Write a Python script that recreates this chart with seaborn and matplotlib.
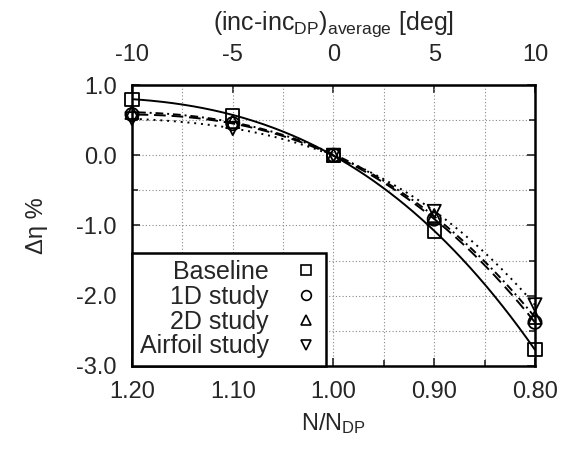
import numpy as np
import pandas as pd
import matplotlib
matplotlib.use('Agg')
import matplotlib.pyplot as plt
from matplotlib.lines import Line2D
from matplotlib.ticker import MultipleLocator
import seaborn as sns

## data
speed = [1.20, 1.10, 1.00, 0.90, 0.80]
baseline = [0.80, 0.57, 0.00, -1.08, -2.77]
study_1d = [0.58, 0.45, 0.00, -0.91, -2.38]
study_2d = [0.61, 0.48, 0.00, -0.86, -2.31]
airfoil = [0.52, 0.38, 0.00, -0.80, -2.13]

names = ['Baseline', '1D study', '2D study', 'Airfoil study']
markers = ['s', 'o', '^', 'v']
styles = ['-', (0, (6, 3)), (0, (4, 2, 1, 2)), (0, (1, 2.5))]

sns.set_style('ticks')
plt.rcParams['font.family'] = ['Liberation Sans', 'DejaVu Sans']
plt.rcParams['mathtext.fontset'] = 'custom'
plt.rcParams['mathtext.rm'] = 'Liberation Sans'
plt.rcParams['mathtext.it'] = 'Liberation Sans'
plt.rcParams['axes.unicode_minus'] = False

fs = 17

fig = plt.figure(figsize=(5.74, 4.5), dpi=100)
ax = fig.add_axes([0.230, 0.187, 0.702, 0.624])

# smooth fitted curve through each series, points on top
x_fine = np.linspace(0.80, 1.20, 200)
handles = []
for name, vals, mk, ls in zip(names, [baseline, study_1d, study_2d, airfoil], markers, styles):
    coef = np.polyfit(speed, vals, 3)
    fit = pd.DataFrame({'N': x_fine, 'eta': np.polyval(coef, x_fine)})
    sns.lineplot(data=fit, x='N', y='eta', ax=ax, color='black', lw=1.4, linestyle=ls, legend=False)
    pts = pd.DataFrame({'N': speed, 'eta': vals})
    sns.scatterplot(data=pts, x='N', y='eta', ax=ax, marker=mk, s=90, facecolor='none',
                    edgecolor='black', linewidth=1.3, zorder=3, legend=False, clip_on=False)
    handles.append(Line2D([], [], ls='none', marker=mk, markersize=7, markerfacecolor='none',
                          markeredgecolor='black', markeredgewidth=1.2, label=name))

ax.set_xlim(1.20, 0.80)
ax.set_ylim(-3.0, 1.0)
ax.xaxis.set_major_locator(MultipleLocator(0.1))
ax.xaxis.set_minor_locator(MultipleLocator(0.05))
ax.yaxis.set_major_locator(MultipleLocator(1.0))
ax.yaxis.set_minor_locator(MultipleLocator(0.5))
ax.xaxis.set_major_formatter(lambda v, p: f'{v:.2f}')
ax.yaxis.set_major_formatter(lambda v, p: f'{v:.1f}')
ax.grid(which='both', color='#888888', linestyle=(0, (1, 2)), linewidth=0.8)
ax.tick_params(which='both', direction='in', top=False, right=True, labelsize=fs, width=1.2)
ax.tick_params(which='major', length=6, pad=11)
ax.tick_params(which='minor', length=4)
for sp in ax.spines.values():
    sp.set_linewidth(1.8)
    sp.set_color('black')

ax.set_xlabel('N/N$_{\\mathrm{DP}}$', fontsize=fs, labelpad=6)
ax.set_ylabel('Δη %', fontsize=fs, labelpad=20)

top = ax.secondary_xaxis('top', functions=(lambda n: (1 - n) * 50, lambda i: 1 - i / 50))
top.set_xticks([-10, -5, 0, 5, 10])
top.tick_params(direction='in', labelsize=fs, length=6, width=1.2, pad=14)
top.set_xlabel('(inc-inc$_{\\mathrm{DP}}$)$_{\\mathrm{average}}$ [deg]', fontsize=18, labelpad=10)

leg = ax.legend(handles=handles, loc='lower left', bbox_to_anchor=(0, 0), borderaxespad=0,
                markerfirst=False, fontsize=18, frameon=True, fancybox=False, framealpha=1,
                edgecolor='black', handlelength=1.0, handletextpad=1.0, labelspacing=0.03,
                borderpad=0.3)
leg.get_frame().set_linewidth(1.8)
leg.set_zorder(5)

fig.savefig('out.png', dpi=100)
